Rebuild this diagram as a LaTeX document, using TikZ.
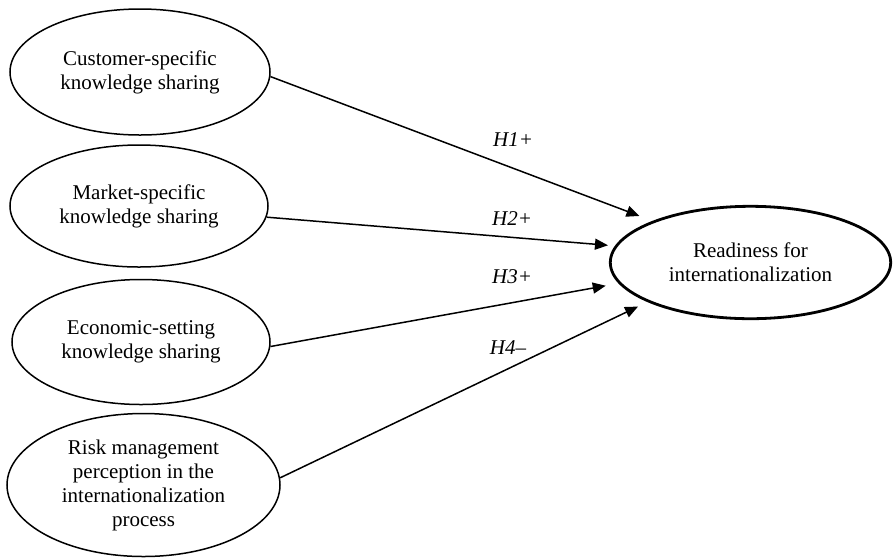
\documentclass[tikz,border=0pt]{standalone}
\usepackage{fontspec}
\setmainfont{Liberation Serif}
\usetikzlibrary{shapes.geometric,arrows.meta}
\tikzset{
  src/.style={draw, ellipse, line width=1.5pt, inner sep=0pt, align=center,
    font=\fontsize{21}{24}\selectfont},
  dst/.style={draw, ellipse, line width=2.8pt, inner sep=0pt, align=center,
    font=\fontsize{21}{24}\selectfont},
  arr/.style={line width=1.5pt, -{Triangle[length=13pt,width=11pt]}},
  hyp/.style={font=\fontsize{21}{24}\selectfont\itshape}
}
\begin{document}
\begin{tikzpicture}[x=1pt,y=-1pt]
\useasboundingbox (0,0) rectangle (894,558);
\node[src, minimum width=260pt, minimum height=126pt] (e1) at (140,72) {Customer-specific\\knowledge sharing};
\node[src, minimum width=258pt, minimum height=122pt] (e2) at (139,206) {Market-specific\\knowledge sharing};
\node[src, minimum width=258pt, minimum height=125pt] (e3) at (141,342) {Economic-setting\\knowledge sharing};
\node[src, minimum width=273pt, minimum height=143pt] (e4) at (143.5,485) {Risk management\\perception in the\\internationalization\\process};
\node[dst, minimum width=280.4pt, minimum height=112.4pt] (t) at (750.5,262.5) {Readiness for\\internationalization};
\draw[arr, shorten >=14pt] (e1.-2.2) -- (t.157.4);
\draw[arr, shorten >=7pt] (e2.-5.4) -- (t.173.7);
\draw[arr, shorten >=13pt] (e3.-2.2) -- (t.189.8);
\draw[arr, shorten >=10.5pt] (e4.3) -- (t.201.1);
\node[hyp] (h1) at (513,140) {H1+};
\node[hyp] (h2) at (512,219) {H2+};
\node[hyp] (h3) at (512,277) {H3+};
\node[hyp] (h4) at (508,348) {H4–};
\end{tikzpicture}
\end{document}
